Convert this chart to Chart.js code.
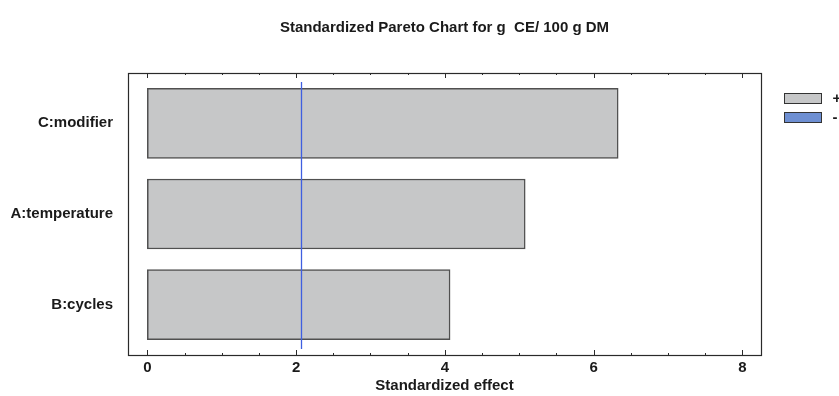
<!DOCTYPE html>
<html>
<head>
<meta charset="utf-8">
<script src="https://cdn.jsdelivr.net/npm/chart.js@4/dist/chart.umd.min.js"></script>
<style>
  html, body { margin: 0; padding: 0; background: #fff; }
  #wrap { width: 839px; height: 396px; }
</style>
</head>
<body>
<div id="wrap"><canvas id="pareto" width="839" height="396"></canvas></div>
<script>
// Values.
const categories = ["C:modifier", "A:temperature", "B:cycles"];
const posEffects = [6.33, 5.08, 4.07];
const negEffects = [null, null, null];
const legendLabels = ["+", "-"];
const xTickLabels = [0, 2, 4, 6, 8];
const critValue = 2.07; // the vertical reference line

const FONT = "'Liberation Sans', Arial, sans-serif";
const INK = "#1a1a1a";

// frame, inward ticks, reference line and legend
const framePlugin = {
  id: "frame",
  afterDatasetsDraw(chart) {
    const { ctx, chartArea: a, scales: { x } } = chart;
    const top = a.top - 5, bottom = a.bottom + 5;
    ctx.save();
    // frame
    ctx.strokeStyle = "#2a2a2a";
    ctx.lineWidth = 1.2;
    ctx.strokeRect(Math.round(a.left) + 0.5, top + 0.5, Math.round(a.right - a.left), bottom - top);
    // ticks every 0.5, longer on the labelled ones
    ctx.lineWidth = 1;
    for (let v = 0; v <= 8; v += 0.5) {
      const px = Math.round(x.getPixelForValue(v)) + 0.5;
      const major = xTickLabels.includes(v);
      ctx.beginPath();
      ctx.moveTo(px, top);
      ctx.lineTo(px, top + (major ? 5 : 2));
      ctx.moveTo(px, bottom);
      ctx.lineTo(px, bottom - (major ? 5 : 2));
      ctx.stroke();
    }
    // reference line
    const cx = Math.round(x.getPixelForValue(critValue)) + 0.5;
    ctx.strokeStyle = "#3f5fe0";
    ctx.lineWidth = 1.3;
    ctx.beginPath();
    ctx.moveTo(cx, top + 9);
    ctx.lineTo(cx, bottom - 6);
    ctx.stroke();
    ctx.restore();
  },
  afterDraw(chart) {
    const { ctx, chartArea: a } = chart;
    ctx.save();
    ctx.font = "bold 15px " + FONT;
    ctx.textBaseline = "middle";
    chart.data.datasets.forEach((ds, i) => {
      const bx = a.right + 23.5, by = a.top + 15.5 + i * 19;
      ctx.fillStyle = ds.legendColor;
      ctx.fillRect(bx, by, 37, 10);
      ctx.strokeStyle = "#333";
      ctx.lineWidth = 1;
      ctx.strokeRect(bx, by, 37, 10);
      ctx.fillStyle = INK;
      ctx.fillText(ds.label, bx + 48, by + 5);
    });
    ctx.restore();
  }
};

new Chart(document.getElementById("pareto"), {
  type: "bar",
  data: {
    labels: categories,
    datasets: [
      {
        label: legendLabels[0],
        data: posEffects,
        backgroundColor: "#c6c7c8",
        borderColor: "#505050",
        borderWidth: 1.5,
        borderSkipped: false,
        barThickness: 70,
        legendColor: "#c6c7c8",
      },
      {
        label: legendLabels[1],
        data: negEffects,
        backgroundColor: "#6e8fd2",
        borderColor: "#505050",
        borderWidth: 1.5,
        borderSkipped: false,
        barThickness: 70,
        legendColor: "#6e8fd2",
      },
    ],
  },
  options: {
    indexAxis: "y",
    responsive: false,
    animation: false,
    layout: { padding: { left: 5, right: 78, top: 0, bottom: 0 } },
    plugins: {
      legend: { display: false },
      tooltip: { enabled: false },
      title: {
        display: true,
        text: "Standardized Pareto Chart for g  CE/ 100 g DM",
        fullSize: false,
        color: INK,
        font: { family: FONT, size: 15, weight: "bold" },
        padding: { top: 19, bottom: 41 },
      },
    },
    scales: {
      x: {
        type: "linear",
        min: -0.26,
        max: 8.25,
        stacked: true,
        afterBuildTicks: (s) => { s.ticks = xTickLabels.map(v => ({ value: v })); },
        afterFit: (s) => { s.height = 46; },
        grid: { display: false, drawTicks: false },
        border: { display: false },
        ticks: { padding: 9, color: INK, font: { family: FONT, size: 15, weight: "bold" } },
        title: {
          display: true,
          text: "Standardized effect",
          color: INK,
          font: { family: FONT, size: 15, weight: "bold" },
          padding: { top: 0, bottom: 1 },
        },
      },
      y: {
        stacked: true,
        afterFit: (s) => { s.width = 123; },
        grid: { display: false, drawTicks: false },
        border: { display: false },
        ticks: { padding: 15, color: INK, font: { family: FONT, size: 15, weight: "bold" } },
      },
    },
  },
  plugins: [framePlugin],
});
</script>
</body>
</html>
